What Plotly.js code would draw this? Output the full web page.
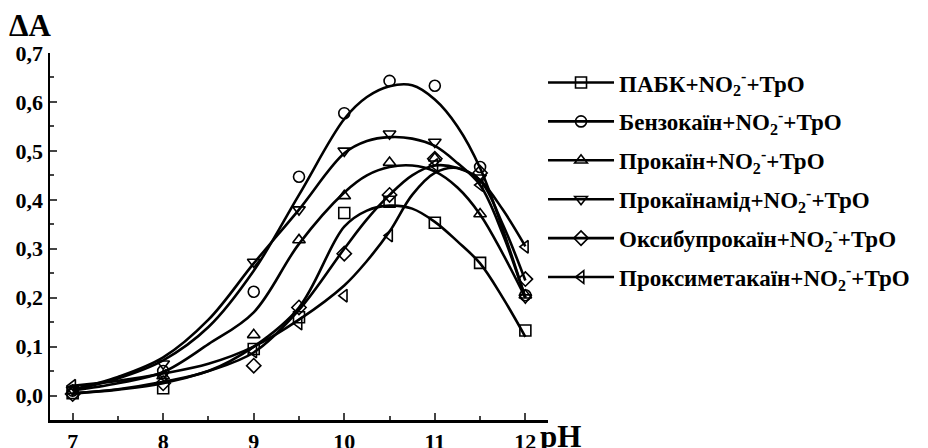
<!DOCTYPE html>
<html>
<head>
<meta charset="utf-8">
<script src="https://cdn.plot.ly/plotly-3.0.1.min.js"></script>
<style>html,body{margin:0;padding:0;background:#fff;}#chart{width:928px;height:448px;}</style>
</head>
<body>
<div id="chart"></div>
<script>
// Measured points (pH)
var phPoints = [7, 8, 9, 9.5, 10, 10.5, 11, 11.5, 12];
var pabk      = [0.005, 0.015, 0.095, 0.16, 0.373, 0.396, 0.353, 0.271, 0.133];
var benzo     = [0.01, 0.05, 0.212, 0.447, 0.577, 0.643, 0.633, 0.467, 0.205];
var prokain   = [0.01, 0.04, 0.124, 0.318, 0.408, 0.476, 0.485, 0.371, 0.205];
var prokainam = [0.012, 0.065, 0.273, 0.38, 0.5, 0.535, 0.518, 0.445, 0.2];
var oksibu    = [0.003, 0.025, 0.061, 0.18, 0.29, 0.41, 0.484, 0.455, 0.238];
var proksi    = [0.02, 0.04, 0.09, 0.147, 0.204, 0.327, 0.471, 0.43, 0.304];

// Fitted curves
var fitX = [7, 7.5, 8, 8.5, 9, 9.5, 10, 10.25, 10.5, 10.75, 11, 11.25, 11.5, 11.75, 12];
var pabkFit      = [0.005, 0.013, 0.028, 0.05, 0.1, 0.18, 0.345, 0.378, 0.388, 0.382, 0.355, 0.315, 0.27, 0.2, 0.12];
var benzoFit     = [0.012, 0.035, 0.072, 0.14, 0.255, 0.41, 0.565, 0.61, 0.632, 0.634, 0.605, 0.55, 0.465, 0.34, 0.2];
var prokainFit   = [0.01, 0.025, 0.048, 0.105, 0.17, 0.31, 0.415, 0.45, 0.467, 0.47, 0.458, 0.425, 0.37, 0.29, 0.2];
var prokainamFit = [0.012, 0.038, 0.078, 0.155, 0.27, 0.38, 0.495, 0.52, 0.528, 0.525, 0.51, 0.475, 0.43, 0.33, 0.2];
var oksibuFit    = [0.004, 0.012, 0.025, 0.05, 0.088, 0.175, 0.3, 0.36, 0.41, 0.45, 0.47, 0.465, 0.44, 0.35, 0.235];
var proksiFit    = [0.02, 0.03, 0.045, 0.065, 0.1, 0.155, 0.225, 0.275, 0.335, 0.41, 0.455, 0.465, 0.44, 0.38, 0.305];

var names = [
  'ПАБК+NO<sub>2</sub><sup>-</sup>+ТрО',
  'Бензокаїн+NO<sub>2</sub><sup>-</sup>+ТрО',
  'Прокаїн+NO<sub>2</sub><sup>-</sup>+ТрО',
  'Прокаїнамід+NO<sub>2</sub><sup>-</sup>+ТрО',
  'Оксибупрокаїн+NO<sub>2</sub><sup>-</sup>+ТрО',
  'Проксиметакаїн+NO<sub>2</sub><sup>-</sup>+ТрО'
];
var symbols = ['square-open', 'circle-open', 'triangle-up-open', 'triangle-down-open', 'diamond-open', 'triangle-left-open'];
var pointSets = [pabk, benzo, prokain, prokainam, oksibu, proksi];
var fitSets = [pabkFit, benzoFit, prokainFit, prokainamFit, oksibuFit, proksiFit];

var traces = [];
for (var i = 0; i < names.length; i++) {
  traces.push({
    x: fitX, y: fitSets[i], mode: 'lines', type: 'scatter',
    line: {color: '#000', width: 2.6, shape: 'spline', smoothing: 1},
    showlegend: false, legendgroup: 'g' + i, hoverinfo: 'skip'
  });
  traces.push({
    x: phPoints, y: pointSets[i], mode: 'markers', type: 'scatter',
    marker: {symbol: symbols[i], size: 11, color: '#000', line: {width: 1.6, color: '#000'}},
    showlegend: false, legendgroup: 'g' + i
  });
  traces.push({
    x: [null], y: [null], mode: 'lines+markers', type: 'scatter', name: names[i],
    line: {color: '#000', width: 2.6},
    marker: {symbol: symbols[i], size: 11, color: '#000', line: {width: 1.6, color: '#000'}},
    legendgroup: 'g' + i, showlegend: true
  });
}

var tickFont = {family: 'Liberation Serif', size: 22, color: '#000', weight: 'bold'};

var layout = {
  width: 928, height: 448,
  margin: {l: 50, r: 380, t: 53, b: 28},
  paper_bgcolor: '#fff', plot_bgcolor: '#fff',
  separators: ',.',
  showlegend: true,
  font: {family: 'Liberation Serif', color: '#000'},
  xaxis: {
    range: [6.75, 12.25], tickvals: [7, 8, 9, 10, 11, 12], ticks: 'inside', ticklen: 7, tickwidth: 2,
    showline: true, linewidth: 2.5, linecolor: '#000', showgrid: false, zeroline: false,
    tickfont: tickFont, minor: {tickvals: [7.5, 8.5, 9.5, 10.5, 11.5], ticks: 'inside', ticklen: 4, tickwidth: 2}
  },
  yaxis: {
    range: [-0.05, 0.7], tickvals: [0, 0.1, 0.2, 0.3, 0.4, 0.5, 0.6, 0.7], tickformat: '.1f',
    ticks: 'inside', ticklen: 7, tickwidth: 2,
    showline: true, linewidth: 2.5, linecolor: '#000', showgrid: false, zeroline: false,
    tickfont: tickFont, minor: {tickvals: [0.05, 0.15, 0.25, 0.35, 0.45, 0.55, 0.65], ticks: 'inside', ticklen: 4, tickwidth: 2}
  },
  legend: {
    x: 0.99, xanchor: 'left', y: 0.978, yanchor: 'top',
    font: {family: 'Liberation Serif', size: 23, color: '#000', weight: 'bold'},
    tracegroupgap: 6, itemwidth: 66, bgcolor: 'rgba(0,0,0,0)'
  },
  annotations: [
    {text: 'ΔA', xref: 'paper', yref: 'paper', x: -0.04, y: 1.075, xanchor: 'center', yanchor: 'middle', showarrow: false,
     font: {family: 'Liberation Serif', size: 31, color: '#000', weight: 'bold'}},
    {text: 'pH', xref: 'paper', yref: 'paper', x: 1.025, y: -0.045, xanchor: 'center', yanchor: 'middle', showarrow: false,
     font: {family: 'Liberation Serif', size: 31, color: '#000', weight: 'bold'}}
  ]
};

Plotly.newPlot('chart', traces, layout, {displayModeBar: false, staticPlot: true});
</script>
</body>
</html>
